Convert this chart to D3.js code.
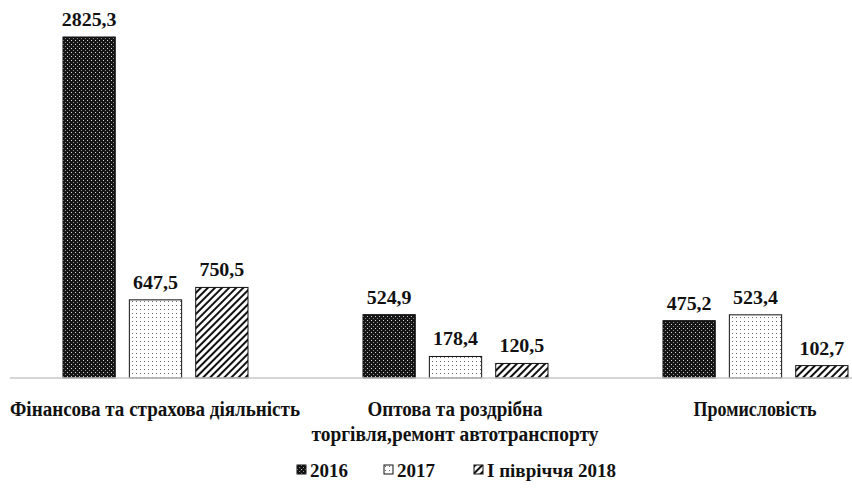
<!DOCTYPE html>
<html>
<head>
<meta charset="utf-8">
<script src="https://cdn.jsdelivr.net/npm/d3@7"></script>
<style>
  body { margin: 0; background: #fff; }
  svg { display: block; }
  svg text { font-family: "Liberation Serif", "Times New Roman", serif; font-weight: bold; fill: #111; }
</style>
</head>
<body>
<div id="chart-area"></div>
<script>
const categories = [
  ["Фінансова та страхова діяльність"],
  ["Оптова та роздрібна", "торгівля,ремонт автотранспорту"],
  ["Промисловість"]
];
const seriesNames = ["2016", "2017", "І півріччя 2018"];
const values2016 = [2825.3, 524.9, 475.2];
const values2017 = [647.5, 178.4, 523.4];
const values2018 = [750.5, 120.5, 102.7];

const svgWidth = 852, svgHeight = 488;
const baseY = 378;

const canvas = d3.select("#chart-area")
  .append("svg")
    .attr("width", svgWidth)
    .attr("height", svgHeight);

// stretch text horizontally to match the reference widths
function stretch(sel, factor) {
  sel.each(function() {
    const w = this.getComputedTextLength();
    d3.select(this)
      .attr("textLength", w * factor)
      .attr("lengthAdjust", "spacingAndGlyphs");
  });
}

// patterns
const defs = canvas.append("defs");
const p1 = defs.append("pattern")
  .attr("id", "pat0").attr("patternUnits", "userSpaceOnUse")
  .attr("width", 4).attr("height", 4);
p1.append("rect").attr("width", 4).attr("height", 4).attr("fill", "#151515");
p1.append("rect").attr("x", 0).attr("y", 0).attr("width", 1).attr("height", 1).attr("fill", "#cfcfcf");
p1.append("rect").attr("x", 2).attr("y", 2).attr("width", 1).attr("height", 1).attr("fill", "#8a8a8a");

const p2 = defs.append("pattern")
  .attr("id", "pat1").attr("patternUnits", "userSpaceOnUse")
  .attr("width", 4).attr("height", 4);
p2.append("rect").attr("width", 4).attr("height", 4).attr("fill", "#fff");
p2.append("rect").attr("x", 1).attr("y", 1).attr("width", 1).attr("height", 1).attr("fill", "#666");

const p3 = defs.append("pattern")
  .attr("id", "pat2").attr("patternUnits", "userSpaceOnUse")
  .attr("width", 5).attr("height", 5)
  .attr("patternTransform", "rotate(45)");
p3.append("rect").attr("width", 5).attr("height", 5).attr("fill", "#fff");
p3.append("rect").attr("x", 0).attr("y", 0).attr("width", 2).attr("height", 5).attr("fill", "#111");

const data = categories.map((c, i) => ({
  label: c,
  vals: [values2016[i], values2017[i], values2018[i]]
}));

const x0 = d3.scaleBand()
  .domain(d3.range(categories.length))
  .range([5, 905]);

const x1 = d3.scaleBand()
  .domain(d3.range(seriesNames.length))
  .range([0, 185])
  .paddingInner(0.212);

const y = d3.scaleLinear()
  .domain([0, 2825.3])
  .range([baseY, 37]);

// bars
const groups = canvas.selectAll(".grp")
  .data(data)
  .enter()
  .append("g")
    .attr("transform", (d, i) => `translate(${x0(i) + 58},0)`);

groups.selectAll("rect")
  .data(d => d.vals)
  .enter()
  .append("rect")
    .attr("x", (d, j) => x1(j))
    .attr("y", d => y(d))
    .attr("width", x1.bandwidth())
    .attr("height", d => baseY - y(d))
    .attr("fill", (d, j) => `url(#pat${j})`)
    .attr("stroke", "#111")
    .attr("stroke-width", 1);

groups.selectAll(".val")
  .data(d => d.vals)
  .enter()
  .append("text")
    .attr("class", "val")
    .text(d => d3.format(".1f")(d).replace(".", ","))
    .attr("x", (d, j) => x1(j) + x1.bandwidth() / 2)
    .attr("y", d => y(d) - 11)
    .attr("text-anchor", "middle")
    .attr("font-size", 19)
    .call(stretch, 1.05);

// axis line
canvas.append("line")
  .attr("x1", 10).attr("x2", svgWidth)
  .attr("y1", baseY).attr("y2", baseY)
  .attr("stroke", "#c8c8c8")
  .attr("stroke-width", 1.5);

// category labels
const labelWidths = [[290], [175, 287], [123]];
data.forEach((d, i) => {
  d.label.forEach((line, k) => {
    canvas.append("text")
      .text(line)
      .attr("x", x0(i) + x0.bandwidth() / 2)
      .attr("y", 416 + k * 25)
      .attr("text-anchor", "middle")
      .attr("font-size", 20)
      .attr("textLength", labelWidths[i][k])
      .attr("lengthAdjust", "spacingAndGlyphs");
  });
});

// legend
const legendX = [297, 384, 474];
const legend = canvas.selectAll(".leg")
  .data(seriesNames)
  .enter()
  .append("g")
    .attr("transform", (d, i) => `translate(${legendX[i]},465)`);
legend.append("rect")
  .attr("width", 9).attr("height", 9)
  .attr("fill", (d, i) => `url(#pat${i})`)
  .attr("stroke", "#111")
  .attr("stroke-width", 1);
legend.append("text")
  .text(d => d)
  .attr("x", 13)
  .attr("y", 11.5)
  .attr("font-size", 19)
  .call(stretch, 1.0);
</script>
</body>
</html>
